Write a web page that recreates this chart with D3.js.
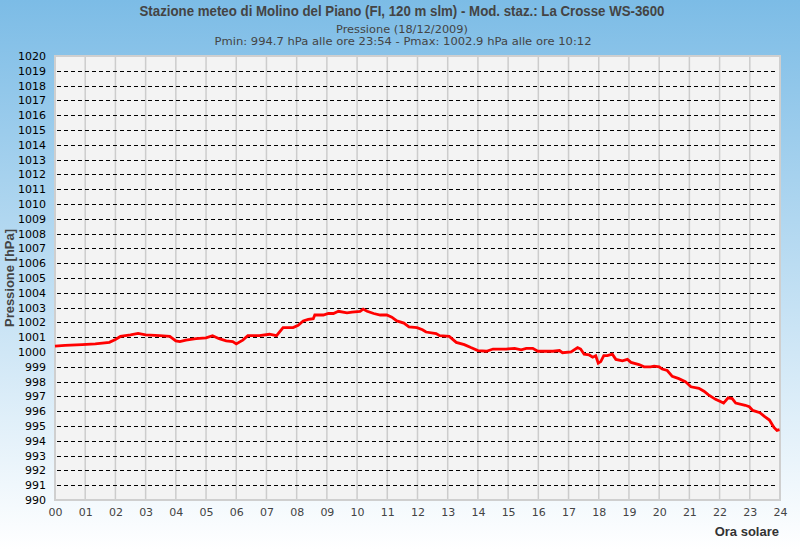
<!DOCTYPE html>
<html>
<head>
<meta charset="utf-8">
<script src="https://cdn.jsdelivr.net/npm/d3@7"></script>
<style>
  html, body { margin: 0; padding: 0; }
  svg { display: block; }
</style>
</head>
<body>
<svg id="chart" width="800" height="550"></svg>
<script>
// ---- data ----
const titleText = "Stazione meteo di Molino del Piano (FI, 120 m slm) - Mod. staz.: La Crosse WS-3600";
const subtitle1 = "Pressione (18/12/2009)";
const subtitle2 = "Pmin: 994.7 hPa alle ore 23:54 - Pmax: 1002.9 hPa alle ore 10:12";
const yAxisTitle = "Pressione [hPa]";
const xAxisTitle = "Ora solare";

const hourTicks = d3.range(0, 25);            // 00 .. 24
const pressureTicks = d3.range(990, 1021);    // 990 .. 1020

const times = [
  "00:00","00:20","00:54","01:20","01:48","02:00","02:10","02:30","02:45","03:00",
  "03:28","03:48","04:00","04:08","04:20","04:40","05:00","05:13","05:26","05:40",
  "05:53","06:00","06:13","06:23","06:46","07:06","07:20","07:33","07:53","08:03",
  "08:13","08:23","08:33","08:36","08:53","09:03","09:13","09:23","09:40","09:50",
  "10:06","10:12","10:20","10:33","10:46","10:59","11:09","11:19","11:33","11:43",
  "11:59","12:10","12:17","12:37","12:44","13:03","13:10","13:17","13:33","13:46",
  "14:00","14:17","14:30","14:56","15:13","15:26","15:36","15:49","15:59","16:29",
  "16:42","16:48","17:05","17:18","17:24","17:31","17:41","17:48","17:54","17:59",
  "18:04","18:10","18:17","18:27","18:34","18:47","18:57","19:04","19:20","19:30",
  "19:43","19:50","20:00","20:06","20:16","20:26","20:39","20:52","21:03","21:19",
  "21:29","21:38","21:52","22:08","22:17","22:25","22:32","22:51","22:59","23:06",
  "23:20","23:29","23:39","23:48","23:54","23:59"
];
const pressure = [
  1000.4,1000.45,1000.5,1000.55,1000.65,1000.85,1001.05,1001.15,1001.25,1001.15,
  1001.1,1001.05,1000.75,1000.7,1000.8,1000.9,1000.95,1001.1,1000.9,1000.75,
  1000.7,1000.55,1000.8,1001.1,1001.1,1001.2,1001.1,1001.65,1001.65,1001.8,
  1002.1,1002.2,1002.25,1002.5,1002.5,1002.6,1002.6,1002.75,1002.65,1002.7,
  1002.75,1002.9,1002.75,1002.6,1002.5,1002.5,1002.35,1002.1,1001.95,1001.7,
  1001.65,1001.5,1001.35,1001.25,1001.1,1001.05,1000.85,1000.65,1000.5,1000.3,
  1000.1,1000.05,1000.2,1000.2,1000.25,1000.15,1000.25,1000.25,1000.05,1000.05,
  1000.1,999.95,1000.0,1000.3,1000.2,999.85,999.8,999.65,999.75,999.25,
  999.35,999.75,999.75,999.85,999.5,999.4,999.5,999.3,999.15,999.0,
  999.0,999.05,999.0,998.85,998.75,998.35,998.2,998.0,997.65,997.55,
  997.35,997.1,996.8,996.55,996.9,996.85,996.55,996.4,996.3,996.05,
  995.9,995.65,995.4,994.9,994.7,994.75
];

// ---- layout ----
const W = 800, H = 550;
const plot = { left: 55, right: 780, top: 56, bottom: 500 };

const svg = d3.select("#chart");

// background gradient
const defs = svg.append("defs");
const grad = defs.append("linearGradient").attr("id", "bg").attr("x1", 0).attr("y1", 0).attr("x2", 0).attr("y2", 1);
grad.append("stop").attr("offset", "0%").attr("stop-color", "#7cbce6");
grad.append("stop").attr("offset", "100%").attr("stop-color", "#ffffff");
svg.append("rect").attr("width", W).attr("height", H).attr("fill", "url(#bg)");

const x = d3.scaleLinear().domain([0, 24]).range([plot.left, plot.right]);
const y = d3.scaleLinear().domain([990, 1020]).range([plot.bottom, plot.top]);

// plot area
svg.append("rect")
  .attr("x", plot.left).attr("y", plot.top)
  .attr("width", plot.right - plot.left).attr("height", plot.bottom - plot.top)
  .attr("fill", "#f3f3f3");

// vertical grid
svg.append("g").selectAll("line")
  .data(hourTicks.filter(h => h > 0 && h < 24))
  .join("line")
  .attr("x1", d => x(d)).attr("x2", d => x(d))
  .attr("y1", plot.top).attr("y2", plot.bottom)
  .attr("stroke", "#cccccc").attr("stroke-width", 1.5);

// horizontal dashed grid
svg.append("g").selectAll("line")
  .data(pressureTicks.filter(p => p > 990 && p < 1020))
  .join("line")
  .attr("x1", plot.left + 2).attr("x2", plot.right - 2)
  .attr("y1", d => Math.round(y(d)) + 0.5).attr("y2", d => Math.round(y(d)) + 0.5)
  .attr("stroke", "#000").attr("stroke-width", 1.2)
  .attr("stroke-dasharray", "4,3");

// border
svg.append("rect")
  .attr("x", plot.left).attr("y", plot.top)
  .attr("width", plot.right - plot.left).attr("height", plot.bottom - plot.top)
  .attr("fill", "none").attr("stroke", "#cfcfcf").attr("stroke-width", 2);

// data line
const parseT = s => { const [h, m] = s.split(":").map(Number); return h + m / 60; };
const pts = times.map((t, i) => [parseT(t), pressure[i]]);
svg.append("path")
  .datum(pts)
  .attr("fill", "none")
  .attr("stroke", "#ff0000")
  .attr("stroke-width", 2.8)
  .attr("stroke-linejoin", "miter")
  .attr("d", d3.line().x(d => x(d[0])).y(d => y(d[1])));

// axes
const yAxis = svg.append("g")
  .attr("transform", `translate(${plot.left},0)`)
  .call(d3.axisLeft(y).tickValues(pressureTicks).tickSize(0).tickPadding(9).tickFormat(d3.format("d")));
yAxis.select(".domain").remove();
yAxis.selectAll("text").attr("font-family", "DejaVu Sans").attr("font-size", 11).attr("fill", "#000");

const xAxis = svg.append("g")
  .attr("transform", `translate(0,${plot.bottom})`)
  .call(d3.axisBottom(x).tickValues(hourTicks).tickSize(0).tickPadding(8).tickFormat(d3.format("02d")));
xAxis.select(".domain").remove();
xAxis.selectAll("text").attr("font-family", "DejaVu Sans").attr("font-size", 11).attr("fill", "#444");

// titles
svg.append("text")
  .attr("x", 402).attr("y", 16)
  .attr("text-anchor", "middle")
  .attr("font-family", "Liberation Sans, Arial, sans-serif")
  .attr("font-weight", "bold").attr("font-size", 14.5).attr("fill", "#444")
  .attr("textLength", 525).attr("lengthAdjust", "spacingAndGlyphs")
  .text(titleText);
svg.append("text")
  .attr("x", 402).attr("y", 33)
  .attr("text-anchor", "middle")
  .attr("font-family", "DejaVu Sans")
  .attr("font-size", 11).attr("fill", "#444")
  .attr("textLength", 132).attr("lengthAdjust", "spacingAndGlyphs")
  .text(subtitle1);
svg.append("text")
  .attr("x", 403).attr("y", 45)
  .attr("text-anchor", "middle")
  .attr("font-family", "DejaVu Sans")
  .attr("font-size", 11).attr("fill", "#444")
  .attr("textLength", 377).attr("lengthAdjust", "spacingAndGlyphs")
  .text(subtitle2);

svg.append("text")
  .attr("transform", `translate(14,${(plot.top + plot.bottom) / 2}) rotate(-90)`)
  .attr("text-anchor", "middle")
  .attr("font-family", "Liberation Sans, Arial, sans-serif")
  .attr("font-weight", "bold").attr("font-size", 13.5).attr("fill", "#444")
  .attr("textLength", 98).attr("lengthAdjust", "spacingAndGlyphs")
  .text(yAxisTitle);

svg.append("text")
  .attr("x", 779).attr("y", 536)
  .attr("text-anchor", "end")
  .attr("font-family", "Liberation Sans, Arial, sans-serif")
  .attr("font-weight", "bold").attr("font-size", 13).attr("fill", "#333")
  .text(xAxisTitle);
</script>
</body>
</html>
